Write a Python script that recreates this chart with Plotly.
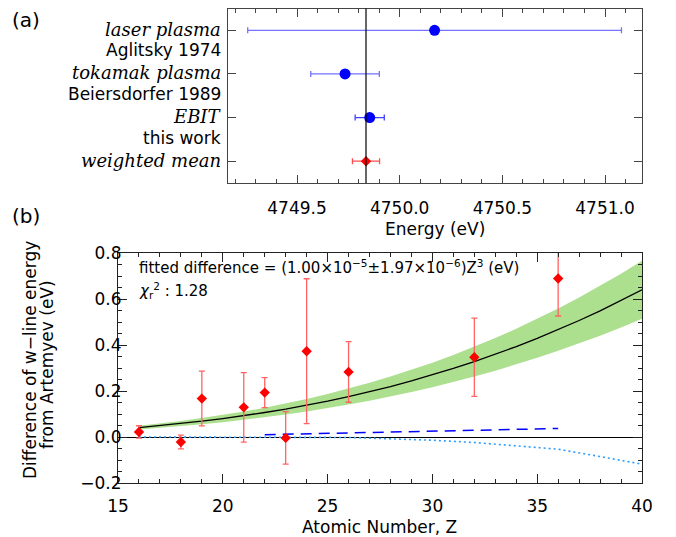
import plotly.graph_objects as go

# the page puts the figure 8px in from the window corner
OFF = 8
W, H = 676 - OFF, 537 - OFF

# panel (a): w-line energy measurements
src_names = ["laser plasma", "tokamak plasma", "EBIT", "weighted mean"]
src_refs = ["Aglitsky 1974", "Beiersdorfer 1989", "this work", ""]
energy = [4750.17, 4749.734, 4749.854, 4749.836]
energy_err = [0.91, 0.167, 0.071, 0.066]

# panel (b): difference from Artemyev vs Z
z_meas = [16, 18, 19, 21, 22, 23, 24, 26, 32, 36]
diff = [0.022, -0.022, 0.167, 0.129, 0.193, -0.004, 0.373, 0.283, 0.347, 0.689]
diff_err = [0.027, 0.030, 0.119, 0.151, 0.065, 0.114, 0.315, 0.132, 0.170, 0.163]

# fitted Z^3 scaling (coefficients printed on the chart)
fit_coef = 1.00e-5
fit_sig = 1.97e-6
fit_z = list(range(16, 41))

dash_z = [22, 26, 30, 34, 36]
dash_y = [0.010, 0.017, 0.026, 0.034, 0.037]

dot_z = [16, 20, 23, 26, 28, 30, 32, 34, 36, 38, 40]
dot_y = [0.0, 0.0, -0.001, -0.002, -0.008, -0.014, -0.024, -0.037, -0.053, -0.085, -0.118]

FONT = "DejaVu Sans"


def px(x):
    return (x - OFF) / W


def py(y):
    return 1 - (y - OFF) / H


fig = go.Figure()

# ---- panel (a)
rows = list(range(len(energy)))
fig.add_trace(go.Scatter(
    x=energy[:2], y=rows[:2], mode="markers", xaxis="x", yaxis="y",
    marker=dict(color="blue", size=11, symbol="circle"),
    error_x=dict(type="data", array=energy_err[:2], color="#7373ff", thickness=1.3, width=3),
))
fig.add_trace(go.Scatter(
    x=energy[2:3], y=rows[2:3], mode="markers", xaxis="x", yaxis="y",
    marker=dict(color="blue", size=11, symbol="circle"),
    error_x=dict(type="data", array=energy_err[2:3], color="#4040ff", thickness=1.3, width=3),
))
fig.add_trace(go.Scatter(
    x=energy[3:], y=rows[3:], mode="markers", xaxis="x", yaxis="y",
    marker=dict(color="red", size=8, symbol="diamond"),
    error_x=dict(type="data", array=energy_err[3:], color="#ff5050", thickness=1.3, width=3),
))
fig.add_shape(type="line", xref="x", yref="y domain", x0=energy[3], x1=energy[3], y0=0, y1=1,
              line=dict(color="black", width=1.2))

# ---- panel (b)
fit_y = [fit_coef * v ** 3 for v in fit_z]
fit_lo = [(fit_coef - fit_sig) * v ** 3 for v in fit_z]
fit_hi = [(fit_coef + fit_sig) * v ** 3 for v in fit_z]

fig.add_trace(go.Scatter(x=fit_z, y=fit_lo, mode="lines", line=dict(width=0),
                         xaxis="x2", yaxis="y2", hoverinfo="skip"))
fig.add_trace(go.Scatter(x=fit_z, y=fit_hi, mode="lines", line=dict(width=0),
                         fill="tonexty", fillcolor="#acdf8e", xaxis="x2", yaxis="y2"))
fig.add_trace(go.Scatter(x=fit_z, y=fit_y, mode="lines", line=dict(color="black", width=1.3),
                         xaxis="x2", yaxis="y2"))
fig.add_trace(go.Scatter(x=dash_z, y=dash_y, mode="lines",
                         line=dict(color="blue", width=1.5, dash="11px,7px"),
                         xaxis="x2", yaxis="y2"))
fig.add_trace(go.Scatter(x=dot_z, y=dot_y, mode="lines",
                         line=dict(color="#2a9dff", width=1.6, dash="2px,3px"),
                         xaxis="x2", yaxis="y2"))
fig.add_trace(go.Scatter(
    x=z_meas, y=diff, mode="markers", xaxis="x2", yaxis="y2",
    marker=dict(color="red", size=8, symbol="diamond"),
    error_y=dict(type="data", array=diff_err, color="#ff6464", thickness=1.3, width=3),
))

axis_common = dict(showline=True, mirror="ticks", ticks="inside", showgrid=False,
                   tickfont=dict(family=FONT, size=17, color="black"))

fig.update_layout(
    width=W, height=H, margin=dict(l=0, r=0, t=0, b=0),
    template="none", showlegend=False,
    paper_bgcolor="white", plot_bgcolor="white",
    font=dict(family=FONT, color="black"),
    xaxis=dict(domain=[px(228), px(642)], anchor="y", range=[4749.164, 4751.18],
               tick0=4749.5, dtick=0.5, tickformat=".1f", ticklen=8, zeroline=False,
               linecolor="#444", tickcolor="#444", ticklabelstandoff=10,
               minor=dict(dtick=0.1, ticklen=4, ticks="inside", tickcolor="#444"),
               **axis_common),
    yaxis=dict(domain=[py(183), 1 - 0.5 / H], anchor="x", range=[3.5, -0.5],
               tickvals=rows, showticklabels=False, ticklen=8, zeroline=False,
               linecolor="#444", tickcolor="#444", **axis_common),
    xaxis2=dict(domain=[px(118), px(642)], anchor="y2", range=[15, 40],
                tick0=15, dtick=5, ticklen=9, zeroline=False,
                linecolor="#222", tickcolor="#222", ticklabelstandoff=8,
                minor=dict(dtick=1, ticklen=4, ticks="inside", tickcolor="#222"),
                **axis_common),
    yaxis2=dict(domain=[py(483), py(253)], anchor="x2", range=[-0.2, 0.8],
                tick0=0, dtick=0.2, tickformat=".1f", ticklen=9,
                zeroline=True, zerolinecolor="black", zerolinewidth=1.2,
                linecolor="#222", tickcolor="#222", ticklabelstandoff=-8,
                minor=dict(dtick=0.05, ticklen=4, ticks="inside", tickcolor="#222"),
                **axis_common),
)

ann = []
ann.append(dict(text="(a)", x=px(10), y=py(20), xanchor="left", yanchor="middle",
                font=dict(size=20)))
ann.append(dict(text="(b)", x=px(10), y=py(216), xanchor="left", yanchor="middle",
                font=dict(size=20)))
for i, (nm, rf) in enumerate(zip(src_names, src_refs)):
    ann.append(dict(text="<i>" + nm + "</i>", x=px(223), y=i, yref="y", yshift=1,
                    xanchor="right", yanchor="middle",
                    font=dict(family="DejaVu Serif", size=18)))
    if rf:
        ann.append(dict(text=rf, x=px(223), y=i, yref="y", yshift=-20,
                        xanchor="right", yanchor="middle", font=dict(size=17)))
ann.append(dict(text="Energy (eV)", x=px(435), y=py(229), xanchor="center",
                yanchor="middle", font=dict(size=17)))
ann.append(dict(text="Atomic Number, Z", x=px(380), y=py(527), xanchor="center",
                yanchor="middle", font=dict(size=17)))
ann.append(dict(text="Difference of w\u2212line energy", x=px(30), y=py(360),
                textangle=-90, xanchor="center", yanchor="middle", font=dict(size=17)))
ann.append(dict(text="from Artemyev (eV)", x=px(47), y=py(365),
                textangle=-90, xanchor="center", yanchor="middle", font=dict(size=17)))
ann.append(dict(text="fitted difference = (1.00\u00d710<sup>\u22125</sup>\u00b11.97\u00d710<sup>\u22126</sup>)Z<sup>3</sup> (eV)",
                x=px(137), y=py(267), xanchor="left", yanchor="middle",
                font=dict(size=15)))
ann.append(dict(text="<i>\u03c7</i><sub>r</sub><sup>2</sup> : 1.28",
                x=px(137), y=py(290), xanchor="left", yanchor="middle",
                font=dict(size=15)))
for a in ann:
    a.setdefault("xref", "paper")
    a.setdefault("yref", "paper")
    a["showarrow"] = False
fig.update_layout(annotations=ann)

fig.write_html("out.html")
